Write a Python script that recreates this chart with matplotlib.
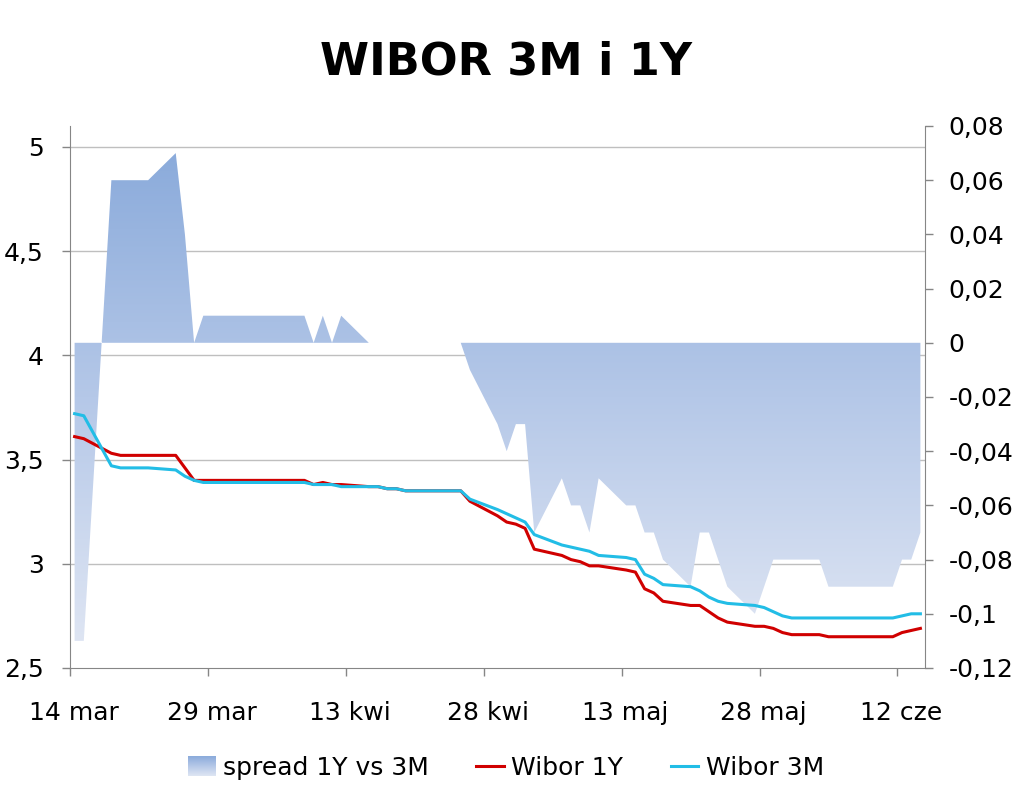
import numpy as np
import pandas as pd
import matplotlib
matplotlib.use('Agg')
import matplotlib.pyplot as plt
import matplotlib.dates as mdates
from matplotlib.colors import LinearSegmentedColormap
from matplotlib.legend_handler import HandlerBase
from matplotlib.image import BboxImage
from matplotlib.transforms import Bbox, TransformedBbox, ScaledTranslation
from matplotlib.lines import Line2D
from matplotlib.patches import Patch
from matplotlib.ticker import FuncFormatter

# fixing days: every weekday 14.03.2013 - 14.06.2013
dates = pd.bdate_range('2013-03-14', '2013-06-14')

wibor_3m = [3.72, 3.71,
            3.47, 3.46, 3.46, 3.46, 3.46,
            3.45, 3.42, 3.40, 3.39, 3.39,
            3.39, 3.39, 3.39, 3.39, 3.39,
            3.39, 3.38, 3.38, 3.38, 3.37,
            3.37, 3.37, 3.36, 3.36, 3.35,
            3.35, 3.35, 3.35, 3.35, 3.31,
            3.26, 3.24, 3.22, 3.20, 3.14,
            3.09, 3.08, 3.07, 3.06, 3.04,
            3.03, 3.02, 2.95, 2.93, 2.90,
            2.89, 2.87, 2.84, 2.82, 2.81,
            2.80, 2.79, 2.77, 2.75, 2.74,
            2.74, 2.74, 2.74, 2.74, 2.74,
            2.74, 2.74, 2.75, 2.76, 2.76]

wibor_1y = [3.61, 3.60,
            3.53, 3.52, 3.52, 3.52, 3.52,
            3.52, 3.46, 3.40, 3.40, 3.40,
            3.40, 3.40, 3.40, 3.40, 3.40,
            3.40, 3.38, 3.39, 3.38, 3.38,
            3.37, 3.37, 3.36, 3.36, 3.35,
            3.35, 3.35, 3.35, 3.35, 3.30,
            3.23, 3.20, 3.19, 3.17, 3.07,
            3.04, 3.02, 3.01, 2.99, 2.99,
            2.97, 2.96, 2.88, 2.86, 2.82,
            2.80, 2.80, 2.77, 2.74, 2.72,
            2.70, 2.70, 2.69, 2.67, 2.66,
            2.66, 2.65, 2.65, 2.65, 2.65,
            2.65, 2.65, 2.67, 2.68, 2.69]

spread = [-0.11, -0.11,
          0.06, 0.06, 0.06, 0.06, 0.06,
          0.07, 0.04, 0.00, 0.01, 0.01,
          0.01, 0.01, 0.01, 0.01, 0.01,
          0.01, 0.00, 0.01, 0.00, 0.01,
          0.00, 0.00, 0.00, 0.00, 0.00,
          0.00, 0.00, 0.00, 0.00, -0.01,
          -0.03, -0.04, -0.03, -0.03, -0.07,
          -0.05, -0.06, -0.06, -0.07, -0.05,
          -0.06, -0.06, -0.07, -0.07, -0.08,
          -0.09, -0.07, -0.07, -0.08, -0.09,
          -0.10, -0.09, -0.08, -0.08, -0.08,
          -0.08, -0.09, -0.09, -0.09, -0.09,
          -0.09, -0.09, -0.08, -0.08, -0.07]

tick_dates = ['2013-03-14', '2013-03-29', '2013-04-13', '2013-04-28',
              '2013-05-13', '2013-05-28', '2013-06-12']
tick_labels = ['14 mar', '29 mar', '13 kwi', '28 kwi', '13 maj', '28 maj', '12 cze']
left_ticks = [2.5, 3, 3.5, 4, 4.5, 5]
right_ticks = [-0.12, -0.1, -0.08, -0.06, -0.04, -0.02, 0, 0.02, 0.04, 0.06, 0.08]

plt.rcParams['font.family'] = 'DejaVu Sans'
axis_col = '#868686'
red = '#D00000'
cyan = '#22BDE6'
cmap = LinearSegmentedColormap.from_list('spread', ['#DEE5F3', '#B5C8E8', '#8BABDB'])


def comma(v, pos=None):
    s = ('%.2f' % v).rstrip('0').rstrip('.')
    if s == '-0':
        s = '0'
    return s.replace('.', ',')


class GradientHandler(HandlerBase):
    def create_artists(self, legend, orig_handle, xdescent, ydescent,
                       width, height, fontsize, trans):
        bb = Bbox.from_bounds(-xdescent, -ydescent, width, height)
        img = BboxImage(TransformedBbox(bb, trans), cmap=cmap,
                        interpolation='bilinear', origin='upper')
        img.set_data(np.linspace(1, 0, 64).reshape(-1, 1))
        return [img]


fig = plt.figure(figsize=(10.24, 7.91), dpi=100)
fig.patch.set_facecolor('white')
ax = fig.add_axes([70 / 1024, 1 - 668 / 791, 855 / 1024, 542 / 791])
ax2 = ax.twinx()
ax.set_zorder(2)
ax.patch.set_visible(False)
ax2.set_zorder(1)

x = mdates.date2num(dates) + 0.5
x0 = mdates.date2num(pd.Timestamp('2013-03-14'))
x1 = mdates.date2num(pd.Timestamp('2013-06-15'))

# gridlines of the left scale, kept behind the spread area
for v in left_ticks[1:]:
    ax2.add_line(Line2D([0, 1], [v, v], transform=ax.get_yaxis_transform(),
                        color='#BFBFBF', lw=1.0, zorder=0.5))

# spread area with vertical gradient
poly = ax2.fill_between(x, spread, 0, facecolor='none', edgecolor='none', lw=0)
im = ax2.imshow(np.linspace(1, 0, 256).reshape(-1, 1), cmap=cmap, aspect='auto',
                extent=[x0, x1, min(spread), max(spread)], origin='upper',
                interpolation='bilinear', zorder=1)
im.set_clip_path(poly.get_paths()[0], transform=ax2.transData)

ax.plot(x, wibor_1y, color=red, lw=2.2, zorder=3)
ax.plot(x, wibor_3m, color=cyan, lw=2.2, zorder=4)

ax.set_xlim(x0, x1)
ax.set_ylim(2.5, 5.1)
ax2.set_ylim(-0.12, 0.08)
ax2.set_xlim(x0, x1)

ax.set_xticks(mdates.date2num(pd.to_datetime(tick_dates)))
ax.set_xticklabels(tick_labels)
ax.set_yticks(left_ticks)
ax.yaxis.set_major_formatter(FuncFormatter(comma))
ax2.set_yticks(right_ticks)
ax2.yaxis.set_major_formatter(FuncFormatter(comma))

ax.tick_params(axis='x', direction='out', length=6, width=1, color=axis_col,
               labelsize=18, pad=18)
ax.tick_params(axis='y', direction='out', length=6, width=1, color=axis_col,
               labelsize=18, pad=13)
ax2.tick_params(axis='y', direction='out', length=6, width=1, color=axis_col,
                labelsize=18, pad=11)
for lbl in ax.get_xticklabels():
    lbl.set_transform(lbl.get_transform() + ScaledTranslation(4 / 100, 0, fig.dpi_scale_trans))

for s in ['top', 'right']:
    ax.spines[s].set_visible(False)
for s in ['top', 'left', 'bottom']:
    ax2.spines[s].set_visible(False)
ax.spines['left'].set_color(axis_col)
ax.spines['bottom'].set_color(axis_col)
ax2.spines['right'].set_color(axis_col)

fig.text(0.494, 1 - 62 / 791, 'WIBOR 3M i 1Y', fontsize=32, fontweight='bold',
         ha='center', va='center')

spread_handle = Patch(label='spread 1Y vs 3M')
handles = [spread_handle,
           Line2D([], [], color=red, lw=2.2, label='Wibor 1Y'),
           Line2D([], [], color=cyan, lw=2.2, label='Wibor 3M')]
fig.legend(handles=handles, loc='center', bbox_to_anchor=(0.494, 1 - 768 / 791),
           ncol=3, frameon=False, fontsize=18, handlelength=1.1, handleheight=0.85,
           handletextpad=0.3, columnspacing=1.9,
           handler_map={spread_handle: GradientHandler()})

fig.savefig('out.png', dpi=100, facecolor='white')
